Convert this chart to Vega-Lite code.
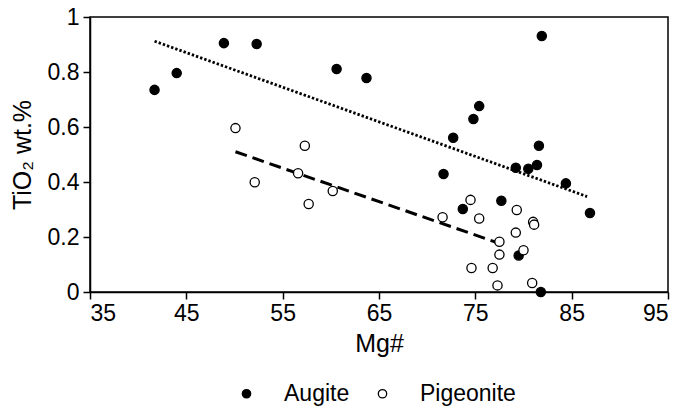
{
  "$schema": "https://vega.github.io/schema/vega-lite/v6.json",
  "width": 578,
  "height": 275,
  "autosize": {"type": "none"},
  "padding": {"left": 90, "top": 17, "right": 13, "bottom": 114},
  "background": "#ffffff",
  "config": {
    "font": "Liberation Sans",
    "view": {"stroke": "#000000", "strokeWidth": 1.5},
    "axis": {
      "domainColor": "#000000",
      "domainWidth": 1.5,
      "tickColor": "#000000",
      "tickWidth": 1.5,
      "tickSize": 7,
      "grid": false,
      "labelFont": "Liberation Sans",
      "labelFontSize": 23,
      "labelColor": "#000000",
      "titleFont": "Liberation Sans",
      "titleFontSize": 25,
      "titleFontWeight": "normal",
      "titleColor": "#000000"
    }
  },
  "datasets": {
    "points": [
      {"mineral": "Augite", "mg": 41.7, "tio2": 0.735},
      {"mineral": "Augite", "mg": 44.0, "tio2": 0.796},
      {"mineral": "Augite", "mg": 48.9, "tio2": 0.905},
      {"mineral": "Augite", "mg": 52.3, "tio2": 0.902},
      {"mineral": "Augite", "mg": 60.6, "tio2": 0.811},
      {"mineral": "Augite", "mg": 63.7, "tio2": 0.778},
      {"mineral": "Augite", "mg": 81.9, "tio2": 0.931},
      {"mineral": "Augite", "mg": 75.4, "tio2": 0.676},
      {"mineral": "Augite", "mg": 74.8, "tio2": 0.629},
      {"mineral": "Augite", "mg": 72.7, "tio2": 0.561},
      {"mineral": "Augite", "mg": 81.6, "tio2": 0.532},
      {"mineral": "Augite", "mg": 79.2, "tio2": 0.452},
      {"mineral": "Augite", "mg": 80.5, "tio2": 0.448},
      {"mineral": "Augite", "mg": 81.4, "tio2": 0.462},
      {"mineral": "Augite", "mg": 71.7, "tio2": 0.429},
      {"mineral": "Augite", "mg": 84.4, "tio2": 0.395},
      {"mineral": "Augite", "mg": 73.7, "tio2": 0.302},
      {"mineral": "Augite", "mg": 77.7, "tio2": 0.332},
      {"mineral": "Augite", "mg": 86.9, "tio2": 0.287},
      {"mineral": "Augite", "mg": 79.5, "tio2": 0.133},
      {"mineral": "Augite", "mg": 81.8, "tio2": 0.0},
      {"mineral": "Pigeonite", "mg": 50.1, "tio2": 0.596},
      {"mineral": "Pigeonite", "mg": 57.3, "tio2": 0.532},
      {"mineral": "Pigeonite", "mg": 52.1, "tio2": 0.399},
      {"mineral": "Pigeonite", "mg": 56.6, "tio2": 0.432},
      {"mineral": "Pigeonite", "mg": 60.2, "tio2": 0.367},
      {"mineral": "Pigeonite", "mg": 57.7, "tio2": 0.32},
      {"mineral": "Pigeonite", "mg": 74.5, "tio2": 0.335},
      {"mineral": "Pigeonite", "mg": 71.6, "tio2": 0.272},
      {"mineral": "Pigeonite", "mg": 75.4, "tio2": 0.267},
      {"mineral": "Pigeonite", "mg": 79.3, "tio2": 0.298},
      {"mineral": "Pigeonite", "mg": 81.0, "tio2": 0.255},
      {"mineral": "Pigeonite", "mg": 81.1, "tio2": 0.245},
      {"mineral": "Pigeonite", "mg": 79.2, "tio2": 0.216},
      {"mineral": "Pigeonite", "mg": 77.5, "tio2": 0.183},
      {"mineral": "Pigeonite", "mg": 77.5, "tio2": 0.136},
      {"mineral": "Pigeonite", "mg": 80.0, "tio2": 0.152},
      {"mineral": "Pigeonite", "mg": 74.6, "tio2": 0.087},
      {"mineral": "Pigeonite", "mg": 76.8, "tio2": 0.087},
      {"mineral": "Pigeonite", "mg": 77.3, "tio2": 0.024},
      {"mineral": "Pigeonite", "mg": 80.9, "tio2": 0.033}
    ],
    "augiteTrend": [
      {"mg": 41.7, "tio2": 0.912},
      {"mg": 86.6, "tio2": 0.347}
    ],
    "pigeoniteTrend": [
      {"mg": 50.1, "tio2": 0.51},
      {"mg": 78.3, "tio2": 0.167}
    ]
  },
  "layer": [
    {
      "data": {"name": "augiteTrend"},
      "mark": {"type": "line", "color": "#000000", "strokeWidth": 2.8, "strokeDash": [2.4, 2], "strokeCap": "butt"},
      "encoding": {
        "x": {"field": "mg", "type": "quantitative"},
        "y": {"field": "tio2", "type": "quantitative"}
      }
    },
    {
      "data": {"name": "pigeoniteTrend"},
      "mark": {"type": "line", "color": "#000000", "strokeWidth": 3, "strokeDash": [12, 6], "strokeCap": "butt"},
      "encoding": {
        "x": {"field": "mg", "type": "quantitative"},
        "y": {"field": "tio2", "type": "quantitative"}
      }
    },
    {
      "data": {"name": "points"},
      "mark": {"type": "point", "shape": "circle", "size": 85, "stroke": "#000000", "strokeWidth": 1.3, "opacity": 1, "filled": false},
      "encoding": {
        "x": {
          "field": "mg",
          "type": "quantitative",
          "scale": {"domain": [35, 95], "nice": false, "zero": false},
          "axis": {"values": [35, 45, 55, 65, 75, 85, 95], "title": "Mg#", "titlePadding": 6, "labelPadding": 3}
        },
        "y": {
          "field": "tio2",
          "type": "quantitative",
          "scale": {"domain": [0, 1], "nice": false},
          "axis": {"values": [0, 0.2, 0.4, 0.6, 0.8, 1], "format": ".1~f", "title": "TiO₂ wt.%", "titlePadding": 12, "labelPadding": 4}
        },
        "fill": {
          "field": "mineral",
          "type": "nominal",
          "scale": {"domain": ["Augite", "Pigeonite"], "range": ["#000000", "#ffffff"]},
          "legend": {
            "title": null,
            "orient": "none",
            "legendX": 145,
            "legendY": 365,
            "direction": "horizontal",
            "columns": 2,
            "columnPadding": 21,
            "symbolType": "circle",
            "symbolSize": 70,
            "symbolStrokeColor": "#000000",
            "symbolStrokeWidth": 1.3,
            "labelFont": "Liberation Sans",
            "labelFontSize": 23,
            "labelColor": "#000000",
            "labelOffset": 26
          }
        }
      }
    }
  ]
}
